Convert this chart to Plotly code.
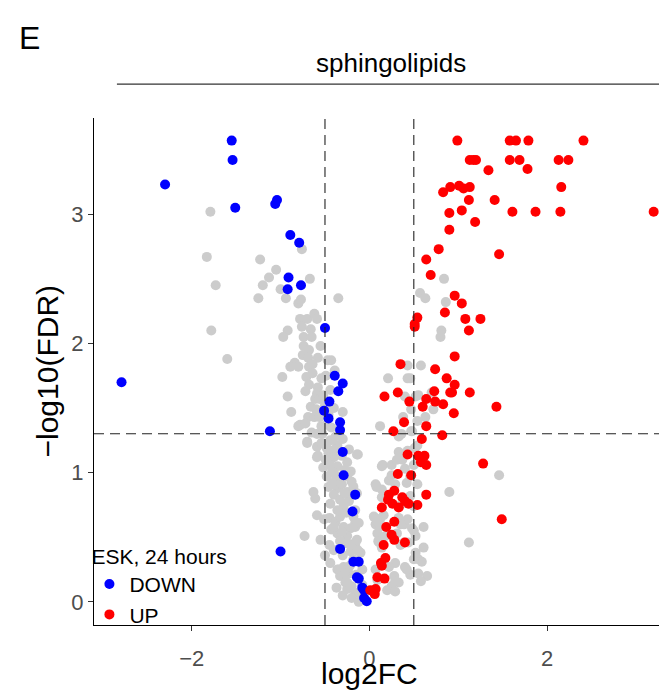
"""Volcano plot — sphingolipids, ESK 24 hours."""

import plotly.graph_objects as go

# -- data: (log2FC, -log10(FDR)) --
NS_POINTS = [
    (-1.79, 3.02), (-1.83, 2.67), (-1.23, 2.65), (-1.05, 2.57), (-1.13, 2.51), (-0.76, 2.73),
    (-1.73, 2.45), (-1.20, 2.45), (-1.00, 2.42), (-0.67, 2.50), (-1.25, 2.35), (-0.94, 2.35),
    (-0.80, 2.31), (-0.77, 2.34), (-0.35, 2.35), (-0.78, 2.19), (-0.70, 2.19), (-0.62, 2.23),
    (-0.59, 2.19), (-0.76, 2.13), (-0.66, 2.11), (-1.78, 2.10), (-0.92, 2.10), (-0.97, 2.05),
    (-0.74, 2.05), (-0.65, 2.05), (-0.55, 1.98), (-0.74, 1.98), (-0.68, 1.95), (-1.60, 1.88),
    (-0.75, 1.91), (-0.69, 1.89), (-0.58, 1.89), (-0.47, 1.87), (-0.43, 1.87), (-0.84, 1.85),
    (-0.89, 1.82), (-0.80, 1.82), (-0.68, 1.82), (-0.64, 1.84), (-0.39, 1.79), (-0.49, 1.75),
    (-0.98, 1.74), (-0.71, 1.74), (-0.64, 1.77), (-0.54, 1.73), (-0.68, 1.68), (-0.58, 1.66),
    (-0.72, 1.63), (-0.59, 1.61), (-0.44, 1.64), (-0.92, 1.59), (-0.61, 1.57), (-0.56, 1.57),
    (-0.66, 1.51), (-0.60, 1.49), (-0.88, 1.47), (-0.69, 1.43), (-0.62, 1.43), (-0.56, 1.43),
    (-0.30, 1.47), (-0.78, 1.37), (-0.80, 1.36), (-0.72, 1.38), (-0.54, 1.36), (-0.48, 1.37),
    (-0.43, 1.35), (-0.65, 1.31), (-0.59, 1.30), (-0.53, 1.30), (-0.52, 1.60), (-0.50, 1.52),
    (-0.46, 1.45), (-0.40, 1.50), (-0.70, 1.24), (-0.58, 1.13),
    (-0.70, 1.23), (-0.59, 1.20), (-0.54, 1.23), (-0.44, 1.25), (-0.36, 1.21), (-0.39, 1.18),
    (-0.46, 1.15), (-0.40, 1.12), (-0.23, 1.18), (-0.14, 1.14), (-0.25, 1.08), (-0.59, 1.12),
    (-0.49, 1.10), (-0.44, 1.06), (-0.36, 1.05), (-0.42, 1.01), (-0.48, 0.97), (-0.34, 0.94),
    (-0.25, 0.97), (-0.21, 1.01), (-0.46, 0.89), (-0.36, 0.88), (-0.31, 0.91), (-0.25, 0.85),
    (-0.18, 0.89), (-0.40, 0.83), (-0.33, 0.79), (-0.44, 0.76), (-0.29, 0.74), (-0.23, 0.78),
    (-0.63, 0.85), (-0.61, 0.80), (-0.59, 0.67), (-0.51, 0.64), (-0.45, 0.65), (-0.38, 0.62),
    (-0.33, 0.66), (-0.29, 0.58), (-0.21, 0.57), (-0.16, 0.61), (-0.43, 0.56), (-0.36, 0.53),
    (-0.73, 0.51), (-0.55, 0.48), (-0.45, 0.44), (-0.25, 0.51), (-0.33, 0.47), (-0.16, 0.46),
    (-0.14, 0.40), (-0.10, 0.38), (-0.21, 0.39), (-0.44, 0.30), (-0.36, 0.25), (-0.29, 0.27),
    (-0.33, 0.20), (-0.23, 0.22), (-0.08, 0.25), (-0.27, 0.15), (-0.20, 0.12), (-0.25, 0.10),
    (-0.16, 0.07), (-0.10, 0.06), (-0.34, 0.25), (-0.28, 0.22), (-0.25, 0.15),
    (-0.38, 1.28), (-0.30, 1.26), (-0.48, 1.19), (-0.31, 1.13), (-0.52, 1.04), (-0.28, 1.02),
    (-0.38, 0.98), (-0.20, 0.93), (-0.42, 0.92), (-0.28, 0.84), (-0.36, 0.71), (-0.26, 0.69),
    (-0.18, 0.66), (-0.40, 0.58), (-0.31, 0.54), (-0.24, 0.45), (-0.40, 0.40), (-0.30, 0.36),
    (-0.18, 0.33), (-0.22, 0.28), (-0.12, 0.18), (-0.20, 0.03), (-0.12, 0.00), (-0.08, 0.13),
    (-0.50, 0.36), (-0.37, 0.11), (-0.15, 0.21), (-0.30, 0.05),
    (-0.13, 1.14), (0.33, 1.16), (0.37, 1.10), (0.25, 1.06), (0.15, 1.06), (0.40, 1.03),
    (0.54, 1.21), (0.50, 1.06), (0.46, 0.97), (0.54, 0.91), (0.07, 0.91), (0.14, 0.87),
    (0.22, 0.94), (0.29, 0.91), (0.05, 0.66), (0.07, 0.60), (0.12, 0.64), (0.16, 0.67),
    (0.33, 0.65), (0.39, 0.60), (0.43, 0.64), (0.09, 0.53), (0.10, 0.47), (0.14, 0.42),
    (0.31, 0.53), (0.35, 0.44), (0.48, 0.57), (0.61, 0.58), (0.52, 0.51), (0.44, 0.46),
    (0.61, 0.42), (0.55, 0.33), (0.59, 0.31), (0.40, 0.27), (0.50, 0.33), (0.29, 0.30),
    (0.22, 0.27), (0.28, 0.20), (0.65, 0.20), (0.58, 0.16), (0.46, 0.21), (0.33, 0.15),
    (0.25, 0.12), (0.20, 0.09), (0.29, 0.08), (-0.16, 0.44), (-0.13, 0.40), (-0.14, 0.48),
    (-0.16, 0.58), (-0.12, 0.61), (-0.16, 0.71), (-0.14, 0.84), (0.08, 0.89), (0.10, 0.64),
    (0.31, 1.10), (0.14, 1.05), (0.25, 0.98), (0.42, 0.92), (0.14, 0.81), (0.46, 0.82),
    (0.35, 0.75), (0.50, 0.74), (0.09, 0.62), (0.12, 0.58), (0.18, 0.51), (0.11, 0.46),
    (0.35, 0.60), (0.39, 0.46), (0.50, 0.55), (0.52, 0.38), (0.42, 0.25), (0.55, 0.22),
    (0.29, 0.16), (0.07, 0.25), (0.09, 0.17),
    (0.84, 2.50), (0.57, 2.39), (0.63, 2.35), (0.86, 2.32), (0.81, 2.10), (0.80, 2.05),
    (0.43, 1.83), (0.58, 1.83), (0.21, 1.73), (0.43, 1.73), (0.46, 1.73), (0.55, 1.60),
    (0.52, 1.59), (0.40, 1.59), (0.70, 1.62), (0.72, 1.49), (0.47, 1.49), (0.38, 1.43),
    (0.63, 1.43), (0.54, 1.40), (0.12, 1.36), (0.33, 1.28), (0.47, 1.32), (1.46, 0.98),
    (0.90, 0.85), (1.12, 0.46), (0.36, 1.30), (0.48, 1.32), (0.43, 1.17), (0.51, 1.19),
]

DOWN_POINTS = [
    (-1.55, 3.57), (-1.54, 3.42), (-2.30, 3.23), (-1.51, 3.05), (-1.04, 3.11), (-1.06, 3.08),
    (-0.89, 2.84), (-0.79, 2.78), (-0.91, 2.51), (-0.92, 2.42), (-0.77, 2.45), (-0.50, 2.12),
    (-2.79, 1.70), (-1.12, 1.32), (-1.00, 0.39), (-0.39, 1.75), (-0.30, 1.69), (-0.35, 1.63),
    (-0.45, 1.55), (-0.51, 1.48), (-0.46, 1.42), (-0.33, 1.39), (-0.33, 1.33), (-0.30, 1.16),
    (-0.29, 0.98), (-0.16, 0.83), (-0.19, 0.70), (-0.33, 0.41), (-0.18, 0.31), (-0.12, 0.31),
    (-0.14, 0.19), (-0.12, 0.18), (-0.08, 0.11), (-0.06, 0.09), (-0.03, 0.005), (-0.06, 0.03),
]

UP_POINTS = [
    (0.99, 3.57), (1.58, 3.57), (1.65, 3.57), (1.79, 3.57), (2.41, 3.57), (1.13, 3.42),
    (1.17, 3.42), (1.20, 3.42), (1.58, 3.42), (1.69, 3.42), (2.13, 3.42), (2.24, 3.42),
    (1.34, 3.34), (1.78, 3.35), (0.83, 3.17), (0.91, 3.21), (1.01, 3.22), (1.06, 3.20),
    (1.13, 3.21), (2.16, 3.21), (1.12, 3.11), (1.41, 3.11), (1.04, 3.03), (0.90, 3.01),
    (1.61, 3.02), (1.87, 3.02), (2.15, 3.02), (3.20, 3.02), (1.19, 2.94), (0.90, 2.88),
    (0.78, 2.73), (1.46, 2.69), (0.64, 2.65), (0.69, 2.53), (0.96, 2.37), (1.04, 2.31),
    (0.85, 2.24), (1.08, 2.19), (1.25, 2.19), (0.54, 2.20), (0.51, 2.15), (0.51, 2.13),
    (1.12, 2.10), (0.96, 1.90), (0.35, 1.84), (0.74, 1.80), (0.87, 1.73), (0.96, 1.68),
    (0.91, 1.62), (0.93, 1.62), (0.73, 1.63), (1.13, 1.62), (0.32, 1.62), (0.17, 1.59),
    (0.45, 1.55), (0.64, 1.57), (0.74, 1.55), (0.83, 1.53), (0.60, 1.51), (0.95, 1.46),
    (1.43, 1.51), (0.39, 1.39), (0.64, 1.36), (0.27, 1.32), (0.82, 1.29), (0.59, 1.26),
    (0.43, 1.14), (0.55, 1.13), (0.62, 1.13), (0.64, 1.06), (0.58, 1.08), (1.28, 1.07),
    (0.32, 0.99), (0.47, 0.98), (0.28, 0.86), (0.22, 0.83), (0.21, 0.79), (0.14, 0.73),
    (0.26, 0.76), (0.37, 0.81), (0.40, 0.78), (0.33, 0.73), (0.44, 0.76), (0.54, 0.75),
    (0.64, 0.83), (1.49, 0.64), (0.28, 0.62), (0.19, 0.58), (0.25, 0.52), (0.28, 0.48),
    (0.40, 0.46), (0.16, 0.44), (0.18, 0.34), (0.13, 0.30), (0.14, 0.28), (0.09, 0.19),
    (0.17, 0.18), (0.01, 0.09), (0.06, 0.06), (0.07, 0.10),
]

X_TICKS = [-2, 0, 2]
Y_TICKS = [0, 1, 2, 3]
FC_CUT = 0.5
FDR_CUT = 1.301  # -log10(0.05)

FONT = "Liberation Sans, Arial, sans-serif"

fig = go.Figure()

for pts, color, name, show in [
    (NS_POINTS, "#CCCCCC", "NS", False),
    (DOWN_POINTS, "#0000FF", "DOWN", True),
    (UP_POINTS, "#FF0000", "UP", True),
]:
    fig.add_trace(go.Scatter(
        x=[p[0] for p in pts], y=[p[1] for p in pts], mode="markers",
        marker={"size": 10, "color": color, "line": {"width": 0}},
        name=name, showlegend=show,
    ))

# threshold lines
dash = {"color": "#222222", "width": 1.1, "dash": "10px,6px"}
for xv in (-FC_CUT, FC_CUT):
    fig.add_shape(type="line", xref="x", yref="paper", x0=xv, x1=xv, y0=0, y1=1, line=dash)
fig.add_shape(type="line", xref="paper", yref="y", x0=0, x1=1, y0=FDR_CUT, y1=FDR_CUT, line=dash)

# strip line under facet title
fig.add_shape(type="line", xref="paper", yref="paper", x0=0.040, x1=1.02, y0=1.067, y1=1.067,
              line={"color": "#333333", "width": 1.2})

axis_common = dict(
    showline=True, linecolor="black", linewidth=1.2, mirror=False,
    ticks="outside", ticklen=5, tickwidth=1.2, tickcolor="#333333",
    tickfont={"family": FONT, "size": 22, "color": "#4D4D4D"},
    showgrid=False, zeroline=False,
)


def note(text, x, y, size, angle=0):
    return {"text": text, "xref": "paper", "yref": "paper", "x": x, "y": y,
            "xanchor": "center", "yanchor": "middle", "showarrow": False,
            "textangle": angle, "font": {"family": FONT, "size": size, "color": "black"}}


# page body has an 8px margin, so the figure is 8px smaller than the window
fig.update_layout(
    width=659, height=690,
    paper_bgcolor="white", plot_bgcolor="white",
    margin={"l": 86, "r": 0, "t": 110, "b": 73},
    font={"family": FONT, "color": "black"},
    xaxis={**axis_common, "range": [-3.10, 3.35], "tickvals": X_TICKS, "ticklabelstandoff": 8},
    yaxis={**axis_common, "range": [-0.179, 3.745], "tickvals": Y_TICKS},
    legend={
        "x": -0.008, "y": -0.019, "xanchor": "left", "yanchor": "bottom",
        "bgcolor": "rgba(0,0,0,0)", "font": {"family": FONT, "size": 21},
        "title": {"text": "ESK, 24 hours", "font": {"family": FONT, "size": 21}},
        "itemwidth": 30, "tracegroupgap": 0,
    },
    annotations=[
        note("E", -0.112, 1.158, 32),
        note("sphingolipids", 0.518, 1.108, 26),
        note("log2FC", 0.480, -0.095, 30),
        note("−log10(FDR)", -0.082, 0.50, 30, -90),
    ],
)

fig.write_html("out.html")
